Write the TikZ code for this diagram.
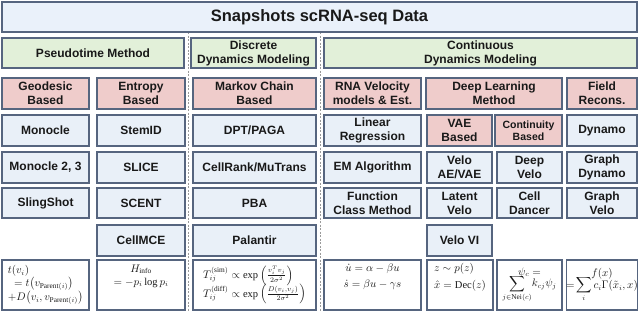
\documentclass[tikz,border=0pt]{standalone}
\usepackage{amsmath}
\usepackage{fontspec}
\setmainfont{Liberation Serif}
\setsansfont{Liberation Sans}
\definecolor{bord}{HTML}{56657F}
\definecolor{titlefill}{HTML}{EAF1FA}
\definecolor{greenfill}{HTML}{E2F0D9}
\definecolor{pinkfill}{HTML}{EFCCCB}
\definecolor{bluefill}{HTML}{E9F0F8}
\definecolor{sepgray}{HTML}{9A9A9A}
\tikzset{
  basebox/.style={draw=bord, line width=1.1pt, inner sep=0pt, outer sep=0pt, align=center,
    text=black!90, font=\sffamily\bfseries\fontsize{12}{14}\selectfont},
  titlebox/.style={basebox, fill=titlefill, font=\sffamily\bfseries\fontsize{16.5}{19}\selectfont},
  catbox/.style={basebox, fill=greenfill},
  subbox/.style={basebox, fill=pinkfill},
  toolbox/.style={basebox, fill=bluefill},
  formbox/.style={basebox, fill=white, font=\rmfamily\fontsize{10.5}{13}\selectfont},
  sepline/.style={draw=sepgray, line width=0.8pt, dash pattern=on 2pt off 1.5pt},
}
\newcommand{\cellbox}[7]{%
  \node[#2, minimum width={#5-#3}, minimum height={#6-#4}] (#1) at ({(#3+#5)/2},{(#4+#6)/2}) {#7};}
\begin{document}
\begin{tikzpicture}[x=1pt,y=-1pt]
\useasboundingbox (0,0) rectangle (640,311);
% separators
\coordinate (s1t) at (188.5,32); \coordinate (s1b) at (188.5,311);
\coordinate (s2t) at (320.5,32); \coordinate (s2b) at (320.5,311);
\draw[sepline] (s1t) -- (s1b);
\draw[sepline] (s2t) -- (s2b);
% title
\cellbox{title}{titlebox}{2}{2}{637}{32}{Snapshots scRNA-seq Data}
% categories
\cellbox{pseudo}{catbox}{2}{38}{184}{68}{Pseudotime Method}
\cellbox{discrete}{catbox}{191}{38}{316}{68}{Discrete\\Dynamics Modeling}
\cellbox{continuous}{catbox}{324}{38}{637}{68}{Continuous\\Dynamics Modeling}
% sub headers
\cellbox{geo}{subbox}{2}{78}{89}{109}{Geodesic\\Based}
\cellbox{entropy}{subbox}{97}{78}{185}{109}{Entropy\\Based}
\cellbox{markov}{subbox}{193}{78}{316}{109}{Markov Chain\\Based}
\cellbox{rnavel}{subbox}{324}{78}{421}{109}{RNA Velocity\\models \& Est.}
\cellbox{deep}{subbox}{426}{78}{562}{109}{Deep Learning\\Method}
\cellbox{field}{subbox}{567}{78}{637}{109}{Field\\Recons.}
% row 4
\cellbox{monocle}{toolbox}{2}{115}{89}{146}{Monocle}
\cellbox{stemid}{toolbox}{97}{115}{185}{146}{StemID}
\cellbox{dpt}{toolbox}{193}{115}{316}{146}{DPT/PAGA}
\cellbox{linreg}{toolbox}{324}{115}{421}{146}{Linear\\Regression}
\cellbox{vae}{subbox}{427}{115}{492}{146}{VAE\\Based}
\cellbox{cont}{subbox, font=\sffamily\bfseries\fontsize{10.5}{12.5}\selectfont}{495}{115}{562}{146}{Continuity\\Based}
\cellbox{dynamo}{toolbox}{567}{115}{637}{146}{Dynamo}
% row 5
\cellbox{monocle23}{toolbox}{2}{152}{89}{183}{Monocle 2, 3}
\cellbox{slice}{toolbox}{97}{152}{185}{183}{SLICE}
\cellbox{cellrank}{toolbox}{193}{152}{316}{183}{CellRank/MuTrans}
\cellbox{em}{toolbox}{324}{152}{421}{183}{EM Algorithm}
\cellbox{veloae}{toolbox}{427}{152}{492}{183}{Velo\\AE/VAE}
\cellbox{deepvelo}{toolbox}{497}{152}{562}{183}{Deep\\Velo}
\cellbox{graphdynamo}{toolbox}{567}{152}{637}{183}{Graph\\Dynamo}
% row 6
\cellbox{slingshot}{toolbox}{2}{188}{89}{218}{SlingShot}
\cellbox{scent}{toolbox}{97}{188}{185}{218}{SCENT}
\cellbox{pba}{toolbox}{193}{188}{316}{218}{PBA}
\cellbox{funcclass}{toolbox}{324}{188}{421}{218}{Function\\Class Method}
\cellbox{latent}{toolbox}{427}{188}{492}{218}{Latent\\Velo}
\cellbox{celldancer}{toolbox}{497}{188}{562}{218}{Cell\\Dancer}
\cellbox{graphvelo}{toolbox}{567}{188}{637}{218}{Graph\\Velo}
% row 7
\cellbox{cellmce}{toolbox}{97}{225}{185}{256}{CellMCE}
\cellbox{palantir}{toolbox}{193}{225}{316}{256}{Palantir}
\cellbox{velovi}{toolbox}{427}{225}{492}{256}{Velo VI}
% formulas
\cellbox{f1}{formbox, align=left, font=\rmfamily\fontsize{10.5}{13}\selectfont}{2}{260}{89}{310}{%
$t(v_i)$\\$\;\;=t\big(v_{\mathrm{Parent}(i)}\big)$\\$+D\big(v_i,v_{\mathrm{Parent}(i)}\big)$}
\cellbox{f2}{formbox}{97}{260}{185}{310}{$H_{\mathrm{info}}$\\$=-p_i\log p_i$\\[7pt]\mbox{}}
\cellbox{f3}{formbox, align=left, font=\rmfamily\fontsize{10.5}{13}\selectfont}{193}{260}{316}{310}{%
$T_{ij}^{(\mathrm{sim})}\propto\exp\left(\frac{v_i^{T}v_j}{2\sigma^2}\right)$\\[-2pt]
$T_{ij}^{(\mathrm{diff})}\propto\exp\left(\frac{D(v_i,v_j)}{2\sigma^2}\right)$}
\cellbox{f4}{formbox, font=\rmfamily\fontsize{10.5}{16.5}\selectfont}{324}{260}{421}{310}{$\dot u=\alpha-\beta u$\\$\dot s=\beta u-\gamma s$\\[2pt]\mbox{}}
\cellbox{f5}{formbox, align=left, font=\rmfamily\fontsize{10.5}{16.5}\selectfont}{427}{260}{493}{310}{$z\sim p(z)$\\$\hat x=\mathrm{Dec}(z)$\\[2pt]\mbox{}}
\cellbox{f6}{formbox}{497}{260}{562}{310}{%
$\psi_c=$\\[-3pt]$\displaystyle\sum_{j\in\mathrm{Nei}(c)}\!k_{cj}\psi_j$}
\cellbox{f7}{formbox}{567}{260}{637}{310}{%
$f(x)$\\[-3pt]$\displaystyle=\!\sum_i c_i\Gamma(\tilde x_i,x)$}
\end{tikzpicture}
\end{document}
